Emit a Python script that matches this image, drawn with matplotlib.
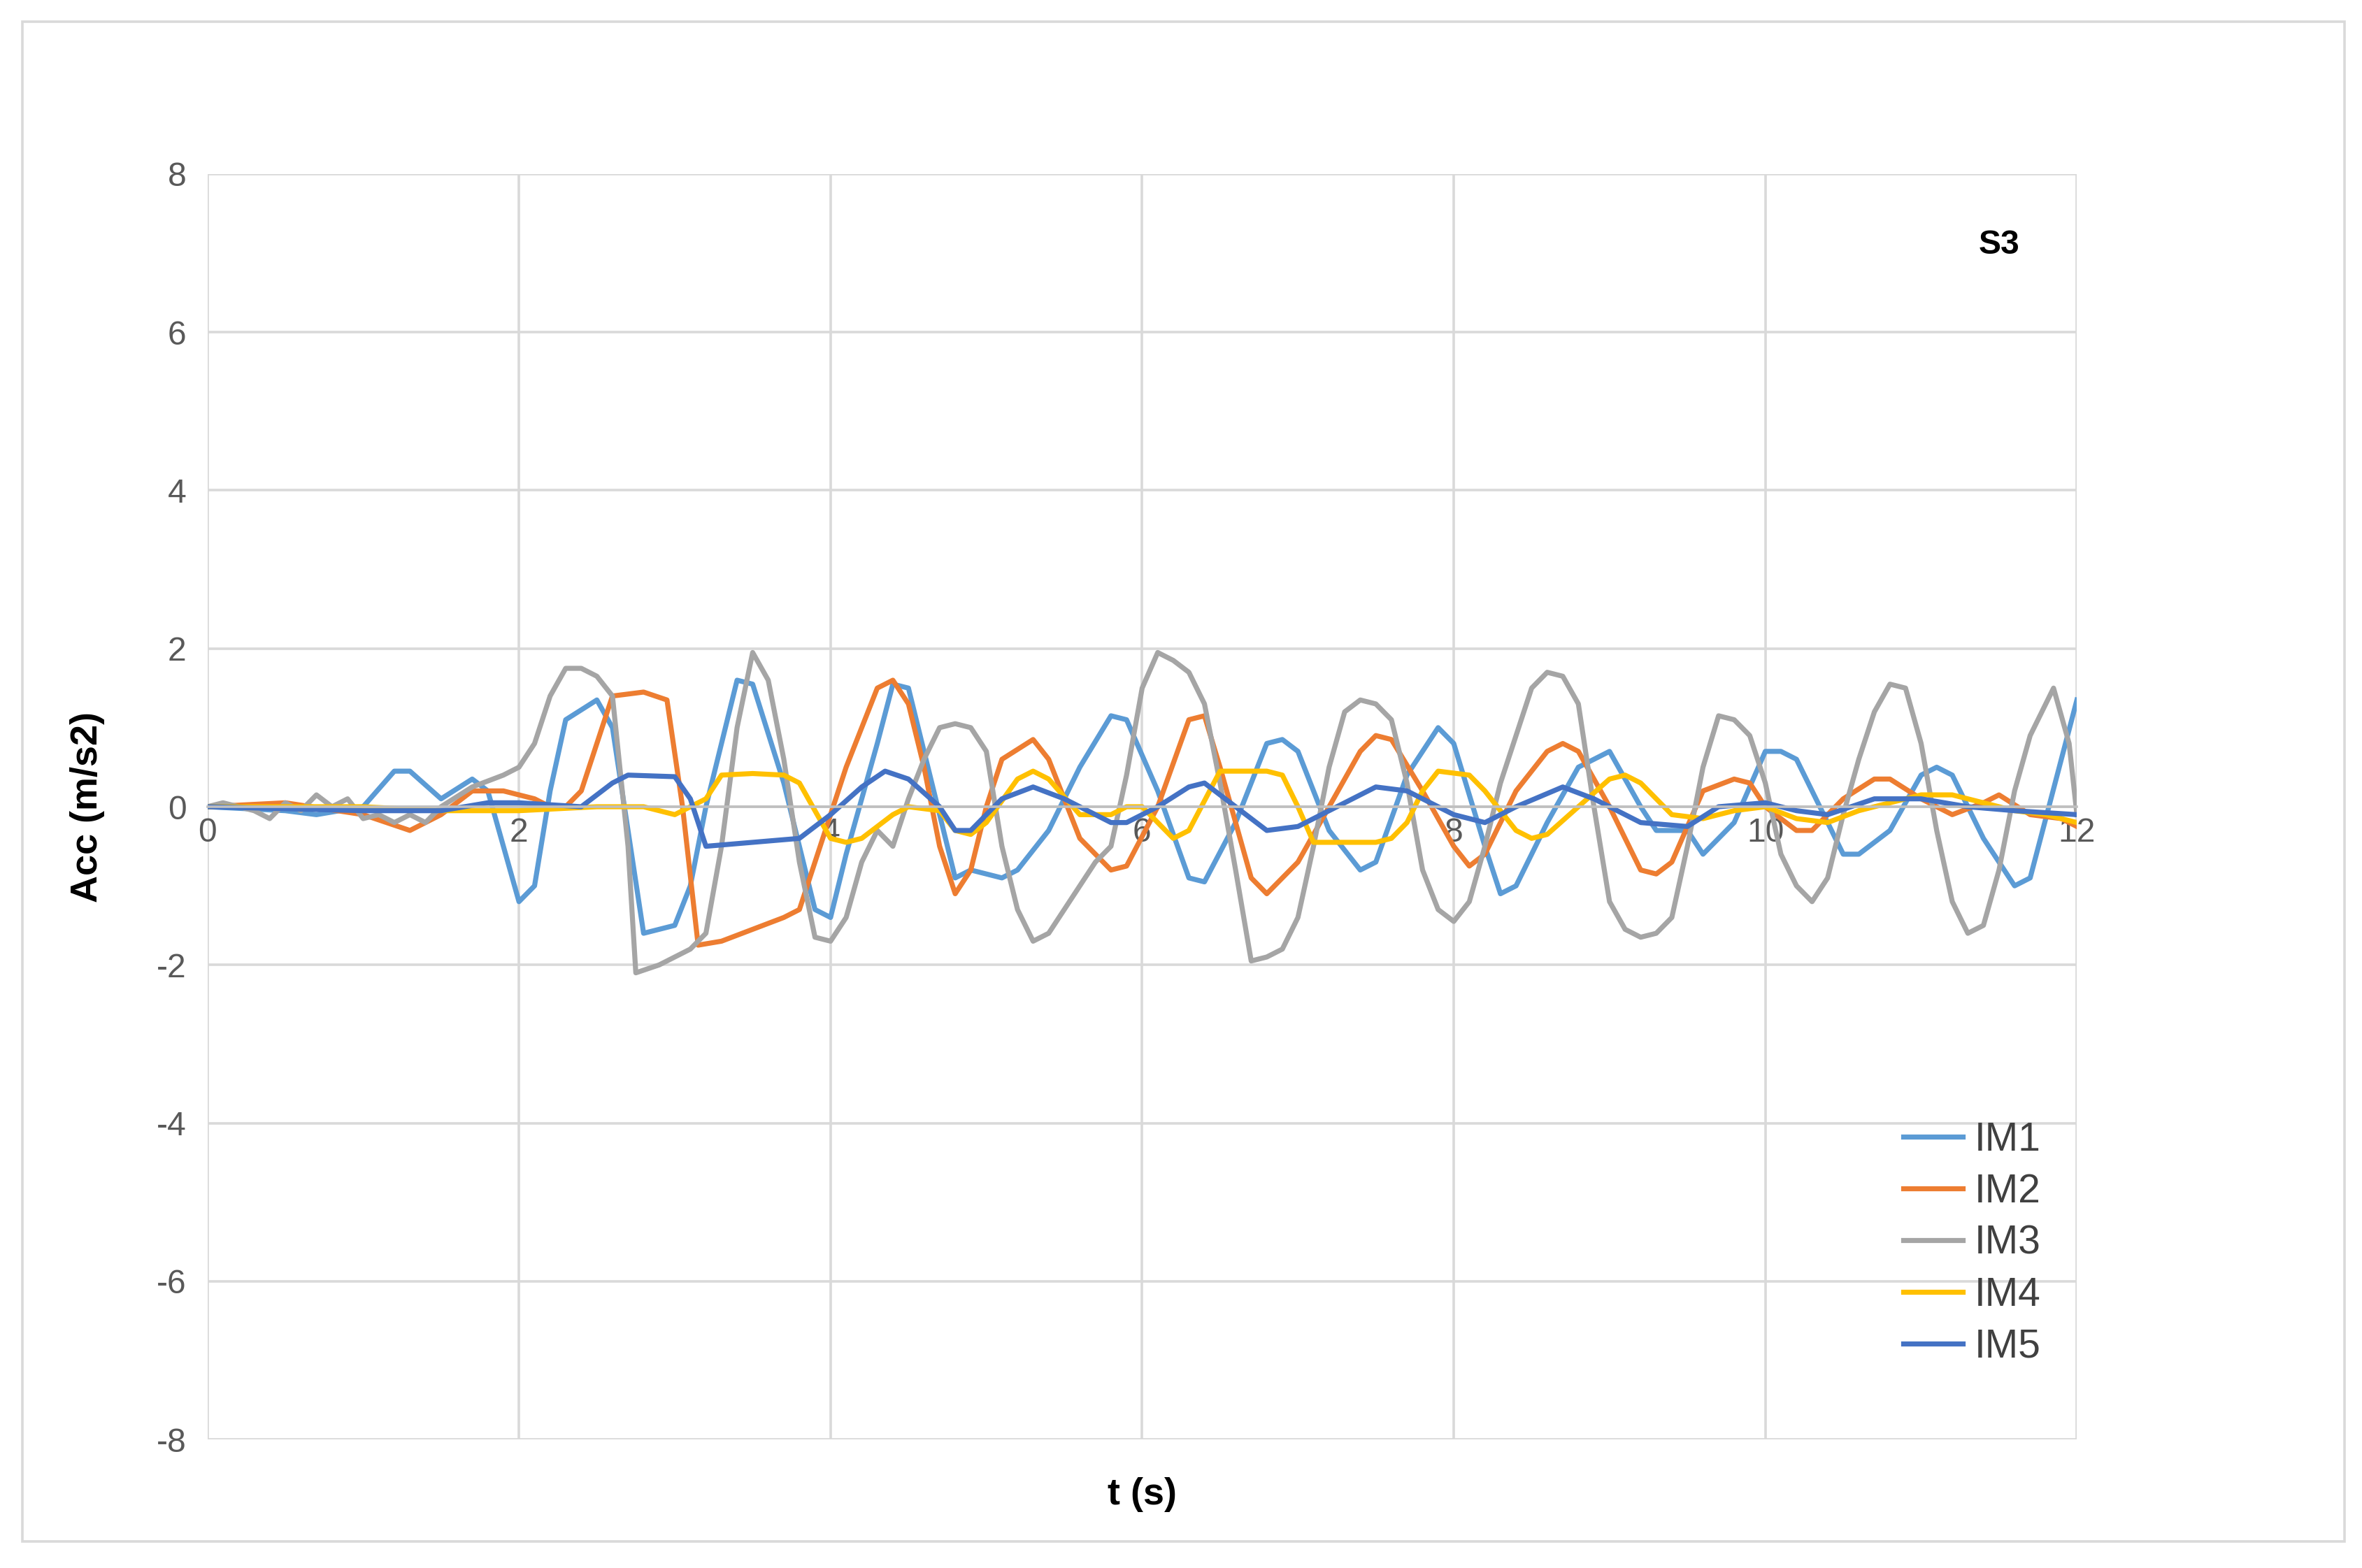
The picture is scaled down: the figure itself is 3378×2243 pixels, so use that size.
import numpy as np
import matplotlib.pyplot as plt
from matplotlib.patches import Rectangle

plt.rcParams['font.family'] = ['Liberation Sans', 'DejaVu Sans']
plt.rcParams['axes.unicode_minus'] = False

# keypoints (t, acc)
im1 = [(0,0),(0.5,-0.05),(0.7,-0.1),(1.0,0),(1.2,0.45),(1.3,0.45),(1.5,0.1),(1.7,0.35),(1.8,0.2),(1.9,-0.5),
       (2.0,-1.2),(2.1,-1.0),(2.2,0.2),(2.3,1.1),(2.5,1.35),(2.6,1.0),(2.8,-1.6),(3.0,-1.5),(3.1,-1.0),(3.2,0.0),
       (3.4,1.6),(3.5,1.55),(3.7,0.3),(3.9,-1.3),(4.0,-1.4),(4.1,-0.6),(4.3,0.8),(4.4,1.55),(4.5,1.5),(4.6,0.7),
       (4.8,-0.9),(4.9,-0.8),(5.1,-0.9),(5.2,-0.8),(5.4,-0.3),(5.6,0.5),(5.8,1.15),(5.9,1.1),(6.1,0.2),(6.3,-0.9),
       (6.4,-0.95),(6.6,-0.2),(6.8,0.8),(6.9,0.85),(7.0,0.7),(7.2,-0.3),(7.4,-0.8),(7.5,-0.7),(7.7,0.4),(7.9,1.0),
       (8.0,0.8),(8.2,-0.5),(8.3,-1.1),(8.4,-1.0),(8.6,-0.2),(8.8,0.5),(9.0,0.7),(9.2,0.0),(9.3,-0.3),(9.5,-0.3),
       (9.6,-0.6),(9.8,-0.2),(10.0,0.7),(10.1,0.7),(10.2,0.6),(10.3,0.2),(10.5,-0.6),(10.6,-0.6),(10.8,-0.3),
       (11.0,0.4),(11.1,0.5),(11.2,0.4),(11.4,-0.4),(11.6,-1.0),(11.7,-0.9),(11.9,0.6),(12.0,1.35)]
im2 = [(0,0),(0.5,0.05),(1.0,-0.1),(1.3,-0.3),(1.5,-0.1),(1.7,0.2),(1.9,0.2),(2.1,0.1),(2.2,0),(2.3,0.0),
       (2.4,0.2),(2.5,0.8),(2.6,1.4),(2.8,1.45),(2.95,1.35),(3.05,0.0),(3.15,-1.75),(3.3,-1.7),(3.5,-1.55),
       (3.7,-1.4),(3.8,-1.3),(3.9,-0.7),(4.1,0.5),(4.3,1.5),(4.4,1.6),(4.5,1.3),(4.6,0.5),(4.7,-0.5),(4.8,-1.1),
       (4.9,-0.8),(5.0,0.0),(5.1,0.6),(5.3,0.85),(5.4,0.6),(5.6,-0.4),(5.8,-0.8),(5.9,-0.75),(6.1,0.0),(6.3,1.1),
       (6.4,1.15),(6.5,0.5),(6.7,-0.9),(6.8,-1.1),(7.0,-0.7),(7.2,0.0),(7.4,0.7),(7.5,0.9),(7.6,0.85),(7.8,0.2),
       (8.0,-0.5),(8.1,-0.75),(8.2,-0.6),(8.4,0.2),(8.6,0.7),(8.7,0.8),(8.8,0.7),(9.0,0.0),(9.2,-0.8),(9.3,-0.85),
       (9.4,-0.7),(9.6,0.2),(9.8,0.35),(9.9,0.3),(10.0,0.0),(10.2,-0.3),(10.3,-0.3),(10.5,0.1),(10.7,0.35),
       (10.8,0.35),(11.0,0.1),(11.2,-0.1),(11.4,0.05),(11.5,0.15),(11.7,-0.1),(11.9,-0.15),(12.0,-0.25)]
im3 = [(0,0),(0.1,0.05),(0.2,0),(0.3,-0.05),(0.4,-0.15),(0.5,0.05),(0.6,-0.05),(0.7,0.15),(0.8,0),(0.9,0.1),
       (1.0,-0.15),(1.1,-0.1),(1.2,-0.2),(1.3,-0.1),(1.4,-0.2),(1.5,0.0),(1.7,0.25),(1.9,0.4),(2.0,0.5),(2.1,0.8),
       (2.2,1.4),(2.3,1.75),(2.4,1.75),(2.5,1.65),(2.6,1.4),(2.7,-0.5),(2.75,-2.1),(2.9,-2.0),(3.1,-1.8),(3.2,-1.6),
       (3.3,-0.5),(3.4,1.0),(3.5,1.95),(3.6,1.6),(3.7,0.6),(3.8,-0.7),(3.9,-1.65),(4.0,-1.7),(4.1,-1.4),(4.2,-0.7),
       (4.3,-0.3),(4.4,-0.5),(4.5,0.1),(4.6,0.6),(4.7,1.0),(4.8,1.05),(4.9,1.0),(5.0,0.7),(5.1,-0.5),(5.2,-1.3),
       (5.3,-1.7),(5.4,-1.6),(5.6,-1.0),(5.7,-0.7),(5.8,-0.5),(5.9,0.4),(6.0,1.5),(6.1,1.95),(6.2,1.85),(6.3,1.7),
       (6.4,1.3),(6.5,0.3),(6.6,-0.8),(6.7,-1.95),(6.8,-1.9),(6.9,-1.8),(7.0,-1.4),(7.1,-0.5),(7.2,0.5),(7.3,1.2),
       (7.4,1.35),(7.5,1.3),(7.6,1.1),(7.7,0.3),(7.8,-0.8),(7.9,-1.3),(8.0,-1.45),(8.1,-1.2),(8.2,-0.5),(8.3,0.3),
       (8.4,0.9),(8.5,1.5),(8.6,1.7),(8.7,1.65),(8.8,1.3),(8.9,0.0),(9.0,-1.2),(9.1,-1.55),(9.2,-1.65),(9.3,-1.6),
       (9.4,-1.4),(9.5,-0.5),(9.6,0.5),(9.7,1.15),(9.8,1.1),(9.9,0.9),(10.0,0.3),(10.1,-0.6),(10.2,-1.0),
       (10.3,-1.2),(10.4,-0.9),(10.5,-0.1),(10.6,0.6),(10.7,1.2),(10.8,1.55),(10.9,1.5),(11.0,0.8),(11.1,-0.3),
       (11.2,-1.2),(11.3,-1.6),(11.4,-1.5),(11.5,-0.8),(11.6,0.2),(11.7,0.9),(11.8,1.3),(11.85,1.5),(11.95,0.8),
       (12.0,-0.1)]
im4 = [(0,0),(1,0),(1.5,-0.05),(2,-0.05),(2.5,0.0),(2.8,0.0),(3.0,-0.1),(3.2,0.1),(3.3,0.4),(3.5,0.42),(3.7,0.4),
       (3.8,0.3),(4.0,-0.4),(4.1,-0.45),(4.2,-0.4),(4.4,-0.1),(4.5,0.0),(4.7,-0.05),(4.8,-0.3),(4.9,-0.35),
       (5.0,-0.2),(5.2,0.35),(5.3,0.45),(5.4,0.35),(5.6,-0.1),(5.8,-0.1),(5.9,0.0),(6.0,0.0),(6.1,-0.2),(6.2,-0.4),
       (6.3,-0.3),(6.5,0.45),(6.6,0.45),(6.8,0.45),(6.9,0.4),(7.0,0.0),(7.1,-0.45),(7.3,-0.45),(7.5,-0.45),
       (7.6,-0.4),(7.7,-0.2),(7.8,0.2),(7.9,0.45),(8.1,0.4),(8.2,0.2),(8.4,-0.3),(8.5,-0.4),(8.6,-0.35),(8.8,0.0),
       (9.0,0.35),(9.1,0.4),(9.2,0.3),(9.4,-0.1),(9.6,-0.15),(9.8,-0.05),(10.0,0.0),(10.2,-0.15),(10.4,-0.2),
       (10.6,-0.05),(10.8,0.05),(11.0,0.15),(11.2,0.15),(11.4,0.05),(11.6,-0.05),(11.8,-0.1),(12.0,-0.2)]
im5 = [(0,0),(1,-0.05),(1.5,-0.05),(1.8,0.05),(2.0,0.05),(2.4,0.0),(2.6,0.3),(2.7,0.4),(3.0,0.38),(3.1,0.1),
       (3.2,-0.5),(3.5,-0.45),(3.8,-0.4),(4.0,-0.1),(4.2,0.25),(4.35,0.45),(4.5,0.35),(4.7,0.0),(4.8,-0.3),
       (4.9,-0.3),(5.1,0.1),(5.3,0.25),(5.5,0.1),(5.8,-0.2),(5.9,-0.2),(6.1,0.0),(6.3,0.25),(6.4,0.3),(6.6,0.0),
       (6.8,-0.3),(7.0,-0.25),(7.3,0.05),(7.5,0.25),(7.7,0.2),(8.0,-0.1),(8.2,-0.2),(8.4,0.0),(8.7,0.25),(8.9,0.1),
       (9.2,-0.2),(9.5,-0.25),(9.7,0.0),(10.0,0.05),(10.2,-0.05),(10.4,-0.1),(10.7,0.1),(11.0,0.1),(11.3,0.0),
       (11.6,-0.05),(12.0,-0.1)]

series = [('IM1', im1, '#5B9BD5'), ('IM2', im2, '#ED7D31'), ('IM3', im3, '#A5A5A5'),
          ('IM4', im4, '#FFC000'), ('IM5', im5, '#4472C4')]

fig = plt.figure(figsize=(3378/216, 2243/216), dpi=216)
ax = fig.add_axes([0.0878, 0.082, 0.7955 - 0.004, 0.807])

for name, pts, c in series:
    a = np.array(pts)
    ax.plot(a[:, 0], a[:, 1], color=c, lw=2.4, label=name)

ax.set_xlim(0, 12)
ax.set_ylim(-8, 8)
ax.set_xticks(range(0, 13, 2))
ax.set_yticks(range(-8, 9, 2))
ax.grid(True, color='#d9d9d9', lw=1.2)
ax.set_axisbelow(True)
for s in ['top', 'right', 'left']:
    ax.spines[s].set_visible(False)
ax.spines['bottom'].set_position(('data', 0))
ax.spines['bottom'].set_color('#bfbfbf')
ax.spines['bottom'].set_linewidth(1.2)
ax.tick_params(length=0, labelsize=16, colors='#595959', pad=10)
ax.tick_params(axis='x', pad=5)
ax.set_xlabel('t (s)', fontsize=18, fontweight='bold')
ax.xaxis.set_label_coords(0.5, -0.03)
ax.set_ylabel('Acc (m/s2)', fontsize=18, fontweight='bold')
ax.yaxis.set_label_coords(-0.055, 0.5)
ax.text(11.5, 7.1, 'S3', fontsize=16, fontweight='bold', ha='center', va='center')

leg = ax.legend(loc='lower right', frameon=False, fontsize=19, handlelength=1.5,
                handletextpad=0.3, bbox_to_anchor=(1.0, 0.03), labelspacing=0.35)
for t in leg.get_texts():
    t.set_color('#404040')

fig.patches.append(Rectangle((0.0096, 0.017), 0.983, 0.969, transform=fig.transFigure,
                             fill=False, ec='#d9d9d9', lw=1.2))
fig.savefig('out.png', dpi=216)
